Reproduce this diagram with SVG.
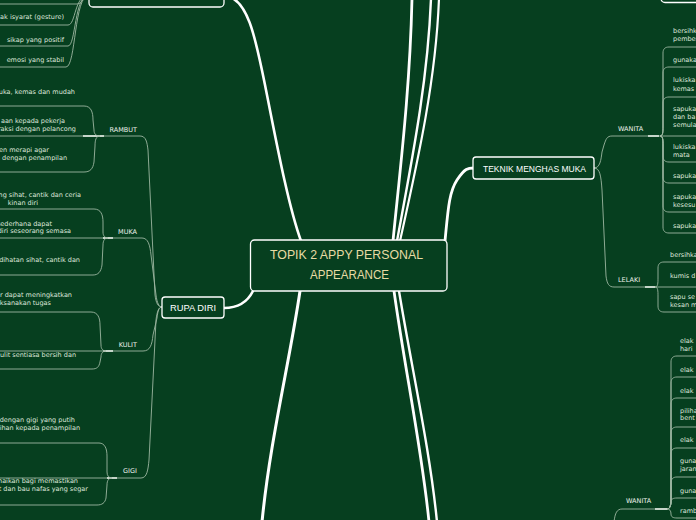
<svg xmlns="http://www.w3.org/2000/svg" width="696" height="520" viewBox="0 0 696 520">
<style>
.t{font-family:"DejaVu Sans",Verdana,sans-serif;font-size:6.5px;fill:#dfe7dc}
.e{text-anchor:end}
.lb{font-family:"DejaVu Sans",Verdana,sans-serif;font-size:6.5px;fill:#eef2ec}
.ln{fill:none;stroke:#9db7a2;stroke-width:0.9}
.br{fill:none;stroke:#e6eee6;stroke-width:1.6}
.th{fill:none;stroke:#ffffff;stroke-linecap:round}
.box{fill:#063f1f;stroke:#ffffff;stroke-width:1.3}
.hd{font-family:"Liberation Sans",Arial,sans-serif;fill:#ffffff}
</style>
<rect width="696" height="520" fill="#063f1f"/>
<g id="connectors">
  <!-- thick main branches -->
  <path class="th" stroke-width="2.6" d="M224,-4 C248,-4 256,40 266,90 S288,205 301,241"/>
  <path class="th" stroke-width="2.8" d="M393,241 C400,170 410,90 412,-2"/>
  <path class="th" stroke-width="2.4" d="M397,241 C412,160 428,80 431,-2"/>
  <path class="th" stroke-width="2.2" d="M400,241 C418,160 436,80 439,-2"/>
  <path class="th" stroke-width="2.8" d="M445,241 C448,210 449,192 457,180 S468,168 474,168"/>
  <path class="th" stroke-width="3" d="M300,291 C290,360 270,440 262,522"/>
  <path class="th" stroke-width="2.8" d="M394,291 C405,370 422,450 429,522"/>
  <path class="th" stroke-width="2.4" d="M399,291 C412,370 430,450 437,522"/>
  <path class="th" stroke-width="2.6" d="M224,308 C240,308 248,301 253,291"/>
  <!-- top-left node children -->
  <path class="ln" d="M0,4 H77 C83,4 83,-5 89,-5"/>
  <path class="ln" d="M0,25 H68 C76,25 74,-5 89,-5"/>
  <path class="ln" d="M0,46 H68 C76,46 74,-5 89,-5"/>
  <path class="ln" d="M0,67 H66 C76,67 74,-5 89,-5"/>
  <!-- RUPA DIRI to groups -->
  <path class="ln" d="M0,136 H140 C146,136 147,142 148,150 L155,295 C156,303 158,307 162,307"/>
  <path class="ln" d="M0,238 H142 C148,238 150,245 151,255 L156,295 C157,303 159,307 162,307"/>
  <path class="ln" d="M0,351 H143 C150,351 152,345 153,335 L157,318 C158,310 159,307 162,307"/>
  <path class="ln" d="M0,478 H141 C147,478 148,470 149,460 L156,320 C157,311 159,307 162,307"/>
  <path class="br" d="M83,136 H104"/>
  <path class="br" d="M103,238 H113"/>
  <path class="br" d="M103,351 H113"/>
  <path class="br" d="M107,478 H117"/>
  <!-- RAMBUT children -->
  <path class="ln" d="M0,106 H84 C91,106 93,112 93,120 L94,130 C94,134 96,136 100,136"/>
  <path class="ln" d="M100,136 C96,136 95,140 95,146 L94,162 C93,169 90,172 84,172 H0"/>
  <!-- MUKA children -->
  <path class="ln" d="M0,209 H94 C101,209 103,215 103,222 L103,232 C103,236 105,238 108,238"/>
  <path class="ln" d="M108,238 C105,238 103,240 103,245 L102,265 C101,272 98,275 93,275 H0"/>
  <!-- KULIT children -->
  <path class="ln" d="M0,312 H91 C98,312 100,318 100,325 L101,345 C101,349 103,351 106,351"/>
  <path class="ln" d="M106,351 C103,351 101,353 101,357 L100,362 C99,367 97,369 92,369 H0"/>
  <!-- GIGI children -->
  <path class="ln" d="M0,443 H99 C105,443 107,449 107,456 L107,472 C107,476 109,478 112,478"/>
  <path class="ln" d="M112,478 C109,478 107,480 107,485 L106,498 C105,503 102,505 97,505 H0"/>
  <!-- TEKNIK to WANITA / LELAKI -->
  <path class="ln" d="M594,168 C600,168 601,160 602,152 L604,145 C606,139 607,136 612,136 H660"/>
  <path class="ln" d="M594,168 C600,168 601,176 602,190 L606,276 C607,284 609,287 614,287 H655"/>
  <path class="br" d="M648,136 H659"/>
  <path class="br" d="M645,287 H655"/>
  <!-- WANITA (top) children -->
  <path class="ln" d="M660,136 C663,136 663,132 663,126 L663,53 C663,49 665,47 669,47 H696"/>
  <path class="ln" d="M660,136 C663,136 663,132 663,126 L663,73 C663,69 665,67 669,67 H696"/>
  <path class="ln" d="M660,136 C663,136 663,132 663,126 L663,103 C663,99 665,97 669,97 H696"/>
  <path class="ln" d="M660,136 H696"/>
  <path class="ln" d="M660,136 C663,136 663,140 663,146 L663,156 C663,160 665,162 669,162 H696"/>
  <path class="ln" d="M660,136 C663,136 663,140 663,146 L663,177 C663,181 665,183 669,183 H696"/>
  <path class="ln" d="M660,136 C663,136 663,140 663,146 L663,206 C663,210 665,212 669,212 H696"/>
  <path class="ln" d="M660,136 C663,136 663,140 663,146 L663,227 C663,231 665,233 669,233 H696"/>
  <!-- LELAKI children -->
  <path class="ln" d="M655,287 C658,287 658,283 658,278 L658,268 C658,264 660,262 664,262 H696"/>
  <path class="ln" d="M655,287 H696"/>
  <path class="ln" d="M655,287 C658,287 658,291 658,296 L658,306 C658,310 660,312 664,312 H696"/>
  <!-- bottom WANITA -->
  <path class="ln" d="M667,509 H622 C617,509 615,513 614,522"/>
  <path class="br" d="M655,509 H667"/>
  <path class="ln" d="M667,509 C670,509 671,505 671,500 L671,362 C671,358 673,356 677,356 H696"/>
  <path class="ln" d="M667,509 C670,509 671,505 671,500 L671,383 C671,379 673,377 677,377 H696"/>
  <path class="ln" d="M667,509 C670,509 671,505 671,500 L671,404 C671,400 673,398 677,398 H696"/>
  <path class="ln" d="M667,509 C670,509 671,505 671,500 L671,433 C671,429 673,427 677,427 H696"/>
  <path class="ln" d="M667,509 C670,509 671,505 671,500 L671,454 C671,450 673,448 677,448 H696"/>
  <path class="ln" d="M667,509 C670,509 671,505 671,500 L671,483 C671,479 673,477 677,477 H696"/>
  <path class="ln" d="M667,509 C670,509 671,505 671,502 C671,499 673,498 677,498 H696"/>
  <path class="ln" d="M667,509 C670,509 671,511 671,514 C671,517 673,518 677,518 H696"/>
</g>
<g id="node-root">
  <rect class="box" x="250.5" y="240" width="196.5" height="51" rx="4"/>
  <text class="hd" x="346.5" y="259" font-size="12.5" text-anchor="middle" fill="#e8dba4" style="fill:#e8dba4" textLength="153" lengthAdjust="spacingAndGlyphs">TOPIK 2 APPY PERSONAL</text>
  <text class="hd" x="349.5" y="279" font-size="12.5" text-anchor="middle" style="fill:#e8dba4" textLength="79" lengthAdjust="spacingAndGlyphs">APPEARANCE</text>
</g>
<g id="node-topleft">
  <rect class="box" x="89" y="-20" width="135" height="27" rx="4"/>
</g>
<g id="node-topright">
  <rect class="box" x="661" y="-20" width="60" height="22.5" rx="4"/>
</g>
<g id="node-rupa-diri">
  <rect class="box" x="162" y="297" width="62" height="21" rx="3"/>
  <text class="hd" x="193" y="310.5" font-size="9.5" text-anchor="middle" textLength="46" lengthAdjust="spacingAndGlyphs">RUPA DIRI</text>
</g>
<g id="node-teknik">
  <rect class="box" x="473" y="157" width="121" height="22" rx="3"/>
  <text class="hd" x="534.5" y="171.5" font-size="9.5" text-anchor="middle" textLength="103" lengthAdjust="spacingAndGlyphs">TEKNIK MENGHAS MUKA</text>
</g>
<g id="items-topleft">
  <text class="t e" x="64" y="19">ak isyarat (gesture)</text>
  <text class="t e" x="64" y="41.5">sikap yang positif</text>
  <text class="t e" x="64" y="62">emosi yang stabil</text>
</g>
<g id="group-rambut">
  <text class="lb e" x="137" y="132">RAMBUT</text>
  <text class="t e" x="75" y="94">uka, kemas dan mudah</text>
  <text class="t e" x="65" y="123">aan kepada pekerja</text>
  <text class="t e" x="76" y="131">raksi dengan pelancong</text>
  <text class="t e" x="49" y="152">en merapi agar</text>
  <text class="t e" x="67" y="160">i dengan penampilan</text>
</g>
<g id="group-muka">
  <text class="lb e" x="137" y="234">MUKA</text>
  <text class="t e" x="81" y="197">ng sihat, cantik dan ceria</text>
  <text class="t e" x="38" y="205">kinan diri</text>
  <text class="t e" x="52" y="226">sederhana dapat</text>
  <text class="t e" x="71" y="233">diri seseorang semasa</text>
  <text class="t e" x="80" y="262">dihatan sihat, cantik dan</text>
</g>
<g id="group-kulit">
  <text class="lb e" x="137" y="347">KULIT</text>
  <text class="t e" x="72" y="297">r dapat meningkatkan</text>
  <text class="t e" x="51" y="305">ksanakan tugas</text>
  <text class="t e" x="76" y="357">ulit sentiasa bersih dan</text>
</g>
<g id="group-gigi">
  <text class="lb e" x="137" y="473">GIGI</text>
  <text class="t e" x="75" y="422">dengan gigi yang putih</text>
  <text class="t e" x="80" y="430">ihan kepada penampilan</text>
  <text class="t e" x="78" y="483">naikan bagi memastikan</text>
  <text class="t e" x="88" y="491">t dan bau nafas yang segar</text>
</g>
<g id="group-wanita-top">
  <text class="lb" x="618" y="131">WANITA</text>
  <text class="t" x="673" y="33">bersihk</text>
  <text class="t" x="673" y="41">pember</text>
  <text class="t" x="673" y="62">gunaka</text>
  <text class="t" x="673" y="82">lukiska</text>
  <text class="t" x="673" y="91">kemas</text>
  <text class="t" x="673" y="111">sapuka</text>
  <text class="t" x="673" y="119">dan ba</text>
  <text class="t" x="673" y="127">semula</text>
  <text class="t" x="673" y="149">lukiska</text>
  <text class="t" x="673" y="157">mata</text>
  <text class="t" x="673" y="178">sapuka</text>
  <text class="t" x="673" y="199">sapuka</text>
  <text class="t" x="673" y="207">kesesu</text>
  <text class="t" x="673" y="228">sapuka</text>
</g>
<g id="group-lelaki">
  <text class="lb" x="618" y="282">LELAKI</text>
  <text class="t" x="670" y="257">bersihka</text>
  <text class="t" x="670" y="278">kumis d</text>
  <text class="t" x="670" y="299">sapu se</text>
  <text class="t" x="670" y="307">kesan m</text>
</g>
<g id="group-wanita-bottom">
  <text class="lb" x="626" y="503">WANITA</text>
  <text class="t" x="680" y="343">elak</text>
  <text class="t" x="680" y="351">hari</text>
  <text class="t" x="680" y="372">elak</text>
  <text class="t" x="680" y="393">elak</text>
  <text class="t" x="680" y="413">piliha</text>
  <text class="t" x="680" y="420">bent</text>
  <text class="t" x="680" y="442">elak</text>
  <text class="t" x="680" y="463">guna</text>
  <text class="t" x="680" y="471">jaran</text>
  <text class="t" x="680" y="493">guna</text>
  <text class="t" x="680" y="513">ramb</text>
</g>
</svg>
